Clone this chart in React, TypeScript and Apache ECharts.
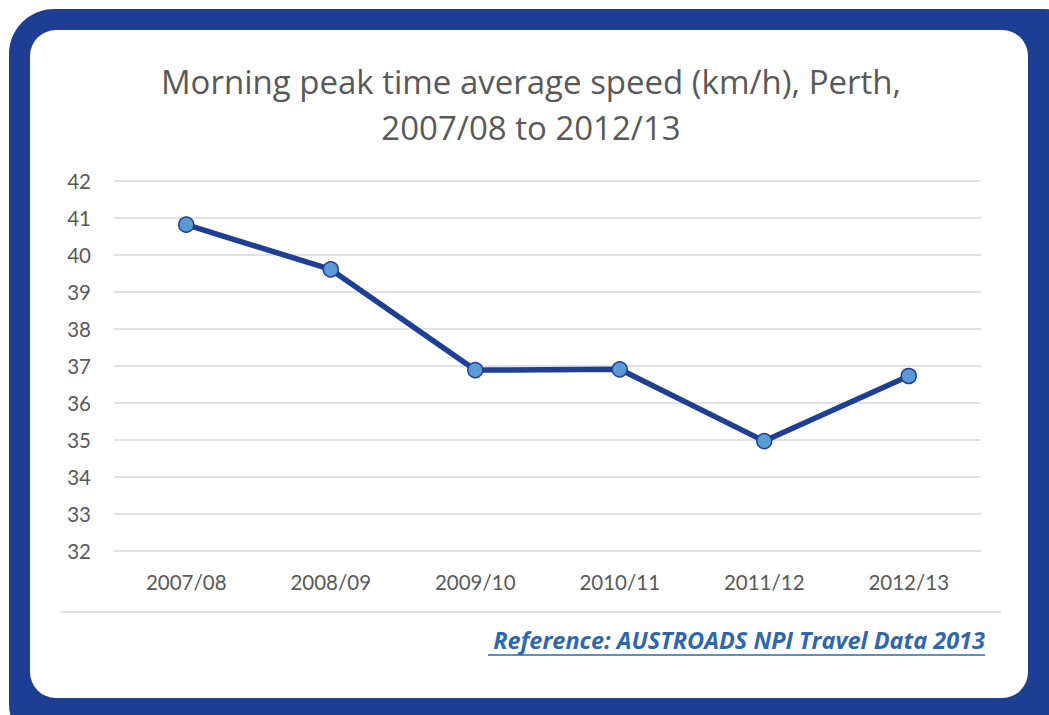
import React, { useEffect, useRef } from "react";
import * as echarts from "echarts";

const categories = ["2007/08", "2008/09", "2009/10", "2010/11", "2011/12", "2012/13"];
const speeds = [40.82, 39.61, 36.89, 36.91, 34.97, 36.73];
const yMin = 32;
const yMax = 42;
const titleLine1 = "Morning peak time average speed (km/h), Perth,";
const titleLine2 = "2007/08 to 2012/13";
const referenceText = "Reference: AUSTROADS NPI Travel Data 2013";

export default function App() {
  const ref = useRef<HTMLDivElement>(null);
  useEffect(() => {
    document.body.style.margin = "0";
    if (!ref.current) return;
    const chart = echarts.init(ref.current, null, { renderer: "svg" });
    const font = "Lato, 'Open Sans', sans-serif";
    const font2 = "'Open Sans', sans-serif";
    chart.setOption({
      animation: false,
      backgroundColor: "#ffffff",
      graphic: [
        {
          type: "rect",
          z: -10,
          shape: { x: 9, y: 9, width: 1080, height: 740, r: 45 },
          style: { fill: "#1D3E92" },
          silent: true,
        },
        {
          type: "rect",
          z: -9,
          shape: { x: 30, y: 30, width: 998, height: 668, r: 26 },
          style: { fill: "#ffffff" },
          silent: true,
        },
        {
          type: "text",
          x: 531,
          y: 81,
          style: {
            text: titleLine1,
            fill: "#595959",
            font: "33px " + font2,
            textAlign: "center",
            textVerticalAlign: "middle",
          },
        },
        {
          type: "text",
          x: 531,
          y: 127,
          style: {
            text: titleLine2,
            fill: "#595959",
            font: "33px " + font2,
            textAlign: "center",
            textVerticalAlign: "middle",
          },
        },
        {
          type: "line",
          shape: { x1: 60, y1: 612, x2: 1001, y2: 612 },
          style: { stroke: "#D9D9D9", lineWidth: 1.5 },
          silent: true,
        },
        {
          type: "text",
          x: 985,
          y: 640,
          style: {
            text: referenceText,
            fill: "#2E67AC",
            font: "italic bold 23.5px " + font2,
            textAlign: "right",
            textVerticalAlign: "middle",
          },
        },
        {
          type: "line",
          shape: { x1: 488, y1: 655, x2: 985, y2: 655 },
          style: { stroke: "#2E67AC", lineWidth: 1.5 },
          silent: true,
        },
      ],
      grid: { left: 114, right: 68, top: 181, bottom: 164 },
      xAxis: {
        type: "category",
        data: categories,
        boundaryGap: true,
        axisLine: { show: false },
        axisTick: { show: false },
        axisLabel: { color: "#595959", fontSize: 20.5, fontFamily: font, margin: 20 },
      },
      yAxis: {
        type: "value",
        min: yMin,
        max: yMax,
        interval: 1,
        axisLine: { show: false },
        axisTick: { show: false },
        axisLabel: { color: "#595959", fontSize: 20.5, fontFamily: font, margin: 23 },
        splitLine: { lineStyle: { color: "#D9D9D9", width: 1.5 } },
      },
      series: [
        {
          type: "line",
          data: speeds,
          symbol: "circle",
          symbolSize: 15,
          lineStyle: { color: "#1F3F94", width: 5.5 },
          itemStyle: { color: "#5B9BD5", borderColor: "#1F3F94", borderWidth: 1.5 },
        },
      ],
    });
    return () => chart.dispose();
  }, []);
  return <div ref={ref} style={{ width: 1049, height: 715 }} />;
}
